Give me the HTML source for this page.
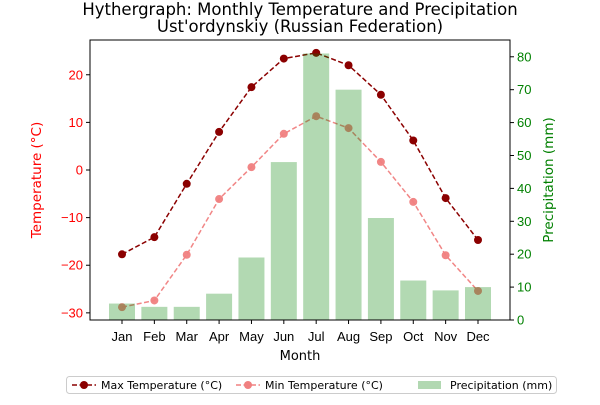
<!DOCTYPE html>
<html><head><meta charset="utf-8"><style>
body{margin:0;background:#fff;font-family:"Liberation Sans",sans-serif}
</style></head><body>
<svg id="c" width="600" height="400" xmlns="http://www.w3.org/2000/svg" font-family="Liberation Sans, sans-serif"></svg>
<script>
const months=["Jan","Feb","Mar","Apr","May","Jun","Jul","Aug","Sep","Oct","Nov","Dec"];
const maxTemp=[-17.7,-14.1,-2.9,8.0,17.4,23.4,24.6,22.0,15.8,6.2,-5.9,-14.7];
const minTemp=[-28.8,-27.4,-17.8,-6.1,0.6,7.6,11.3,8.8,1.7,-6.7,-17.9,-25.4];
const precip=[5,4,4,8,19,48,81,70,31,12,9,10];
const tempTicks=[-30,-20,-10,0,10,20];
const precipTicks=[0,10,20,30,40,50,60,70,80];

const svg=document.getElementById('c');
const NS="http://www.w3.org/2000/svg";
const L=90,R=510,T=40,B=320;
const tMin=-31.5,tMax=27.3,pMax=85.1;
const x=i=>L+32+i*(356/11);
const yT=v=>B-(v-tMin)/(tMax-tMin)*(B-T);
const yP=v=>B-v/pMax*(B-T);
function mk(tag,attrs,parent){const e=document.createElementNS(NS,tag);for(const k in attrs)e.setAttribute(k,attrs[k]);(parent||svg).appendChild(e);return e;}
function txt(s,attrs){const e=mk('text',attrs);e.textContent=s;return e;}
const DJ="DejaVu Sans, sans-serif";

let t=txt("Hythergraph: Monthly Temperature and Precipitation",{x:300,y:15,"text-anchor":"middle","font-size":16.5,"font-family":DJ});


t=txt("Ust'ordynskiy (Russian Federation)",{x:300,y:32,"text-anchor":"middle","font-size":16.5,"font-family":DJ});



function series(data,color,dash,nm){
  const pl=mk('polyline',{points:data.map((v,i)=>x(i)+","+yT(v)).join(" "),fill:"none",stroke:color,"stroke-width":1.5,"stroke-dasharray":dash});
  
  
  data.forEach((v,i)=>{const c=mk('circle',{cx:x(i),cy:yT(v),r:4,fill:color});
  
  });
}
series(minTemp,"rgba(240,128,128,0.95)","5,2.5","min-temp");
series(maxTemp,"#8b0000","5,2.5","max-temp");

// bars (drawn over lines, translucent)
precip.forEach((v,i)=>{const r=mk('rect',{x:x(i)-13,y:yP(v),width:26,height:B-yP(v),fill:"green","fill-opacity":0.3});

});

let f=mk('rect',{x:L,y:T,width:R-L,height:B-T,fill:"none",stroke:"#000","stroke-width":1});



tempTicks.forEach(v=>{const y=yT(v);mk('line',{x1:L-4,x2:L,y1:y,y2:y,stroke:"#000"});
const e=txt(String(v).replace('-','−'),{x:L-7,y:y+4.5,"text-anchor":"end","font-size":13,fill:"red"});

});
precipTicks.forEach(v=>{const y=yP(v);mk('line',{x1:R,x2:R+4,y1:y,y2:y,stroke:"#000"});
const e=txt(String(v),{x:R+7,y:y+4.5,"font-size":13,fill:"green"});

});
months.forEach((m,i)=>{mk('line',{x1:x(i),x2:x(i),y1:B,y2:B+4,stroke:"#000"});
const e=txt(m,{x:x(i),y:B+21,"text-anchor":"middle","font-size":13});

});

t=txt("Month",{x:300,y:360,"text-anchor":"middle","font-size":13,"font-family":DJ});


t=txt("Temperature (°C)",{x:41,y:180,"text-anchor":"middle","font-size":13.5,fill:"red","font-family":DJ,transform:"rotate(-90 41 180)"});


t=txt("Precipitation (mm)",{x:553,y:180,"text-anchor":"middle","font-size":13.5,fill:"green","font-family":DJ,transform:"rotate(90 553 180)"});
t.setAttribute('transform','rotate(-90 553 180)');



// legend
const g=mk('g',{});


mk('rect',{x:66.5,y:376.5,width:490,height:17,rx:3,fill:"#fff",stroke:"#ccc"},g);
mk('line',{x1:72,x2:96,y1:385,y2:385,stroke:"#8b0000","stroke-width":1.5,"stroke-dasharray":"5,2.5"},g);
mk('circle',{cx:84,cy:385,r:4,fill:"#8b0000"},g);
let lt=mk('text',{x:101,y:389,"font-size":11,"font-family":DJ},g);lt.textContent="Max Temperature (°C)";
mk('line',{x1:236,x2:260,y1:385,y2:385,stroke:"#f08080","stroke-width":1.5,"stroke-dasharray":"5,2.5"},g);
mk('circle',{cx:248,cy:385,r:4,fill:"#f08080"},g);
lt=mk('text',{x:265,y:389,"font-size":11,"font-family":DJ},g);lt.textContent="Min Temperature (°C)";
mk('rect',{x:418,y:381,width:23,height:8,fill:"#b2d8b2"},g);
lt=mk('text',{x:450,y:389,"font-size":11,"font-family":DJ},g);lt.textContent="Precipitation (mm)";
</script>
</body></html>
